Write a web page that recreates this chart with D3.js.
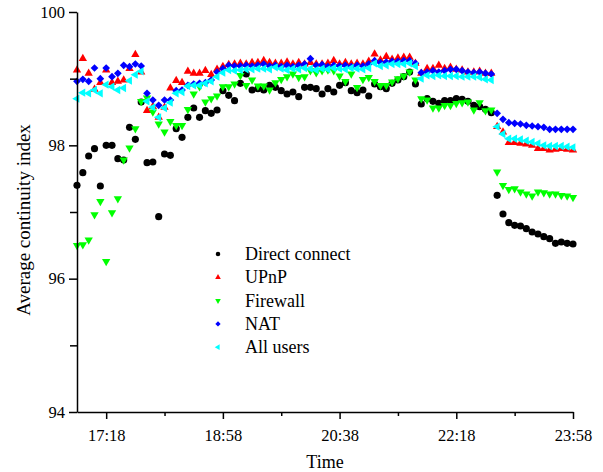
<!DOCTYPE html>
<html>
<head>
<meta charset="utf-8">
<script src="https://cdn.jsdelivr.net/npm/d3@7"></script>
<style>
  body { margin: 0; background: #fff; }
</style>
</head>
<body>
<div id="chart"></div>
<script>
'use strict';

var serif = '"Liberation Serif", "Times New Roman", Times, serif';

// sampling: one point every 5 minutes, 16:53 -> 23:58
var startTime = '16:53';
var stepMinutes = 5;

var majorTicks = ['17:18', '18:58', '20:38', '22:18', '23:58'];
var minorTicks = ['18:08', '19:48', '21:28', '23:08'];
var yMajor = [94, 96, 98, 100];
var yMinor = [95, 97, 99];

var directConnect = [
  97.40, 97.59, 97.84, 97.95, 97.39, 98.00, 98.00, 97.80, 97.78, 98.27,
  98.09, 98.65, 97.74, 97.75, 96.93, 97.87, 97.85, 98.25, 98.12, 98.42,
  98.56, 98.42, 98.52, 98.48, 98.53, 98.82, 98.75, 98.67, 98.93, 99.07,
  98.83, 98.85, 98.83, 98.90, 98.87, 98.82, 98.77, 98.80, 98.73, 98.87,
  98.87, 98.85, 98.77, 98.85, 98.80, 98.90, 98.94, 98.82, 98.79, 98.83,
  98.74, 98.92, 98.88, 98.85, 98.93, 98.98, 99.03, 99.10, 98.92, 98.62,
  98.70, 98.66, 98.63, 98.67, 98.67, 98.70, 98.69, 98.66, 98.60, 98.58,
  98.54, 98.49, 97.25, 96.97, 96.84, 96.80, 96.79, 96.75, 96.70, 96.67,
  96.63, 96.60, 96.53, 96.55, 96.53, 96.52
];

var upnp = [
  99.13, 99.30, 99.08, 98.84, 98.94, 99.13, 98.94, 98.96, 98.98, 99.15,
  99.36, 99.10, 98.52, 98.58, 98.42, 98.57, 98.86, 98.97, 98.94, 99.11,
  99.08, 99.08, 99.12, 99.06, 99.14, 99.18, 99.21, 99.22, 99.23, 99.22,
  99.24, 99.24, 99.27, 99.24, 99.23, 99.23, 99.25, 99.22, 99.24, 99.22,
  99.24, 99.22, 99.22, 99.23, 99.27, 99.22, 99.24, 99.22, 99.23, 99.22,
  99.26, 99.37, 99.28, 99.33, 99.29, 99.31, 99.32, 99.32, 99.23, 99.08,
  99.15, 99.15, 99.20, 99.15, 99.17, 99.14, 99.13, 99.10, 99.10, 99.11,
  99.08, 99.08, 98.28, 98.20, 98.04, 98.04, 98.03, 98.02, 98.00, 97.95,
  97.95, 97.93, 97.94, 97.95, 97.94, 97.93
];

var firewall = [
  96.50, 96.51, 96.58, 96.96, 97.16, 96.26, 96.99, 97.20, 97.78, 97.96,
  98.25, 98.66, 98.71, 98.50, 98.32, 98.20, 98.36, 98.30, 98.30, 98.54,
  98.77, 98.88, 98.65, 98.70, 98.74, 98.88, 98.88, 98.92, 99.05, 98.90,
  98.98, 98.89, 98.89, 98.83, 98.94, 98.99, 99.03, 99.07, 99.02, 99.03,
  99.12, 99.09, 99.12, 99.13, 99.12, 99.04, 98.96, 99.07, 98.87, 98.99,
  99.02, 98.96, 98.90, 98.90, 98.95, 99.00, 99.04, 99.10, 98.98, 98.70,
  98.68, 98.56, 98.56, 98.60, 98.60, 98.63, 98.64, 98.65, 98.53, 98.64,
  98.52, 98.53, 97.60, 97.40, 97.34, 97.35, 97.30, 97.27, 97.24, 97.30,
  97.29, 97.27, 97.27, 97.25, 97.24, 97.22
];

var nat = [
  98.96, 98.99, 98.96, 99.16, 99.00, 99.16, 99.03, 99.08, 99.20, 99.18,
  99.22, 99.19, 98.78, 98.68, 98.60, 98.68, 98.68, 98.82, 98.83, 98.90,
  98.92, 98.93, 98.94, 98.98, 99.10, 99.15, 99.20, 99.19, 99.19, 99.20,
  99.19, 99.20, 99.22, 99.19, 99.20, 99.18, 99.20, 99.18, 99.20, 99.22,
  99.30, 99.20, 99.21, 99.18, 99.20, 99.19, 99.20, 99.18, 99.20, 99.19,
  99.22, 99.27, 99.24, 99.25, 99.26, 99.26, 99.27, 99.27, 99.23, 99.09,
  99.10, 99.12, 99.10, 99.12, 99.14, 99.14, 99.12, 99.10, 99.09, 99.10,
  99.08, 99.07, 98.48, 98.39, 98.34, 98.33, 98.32, 98.30, 98.29, 98.28,
  98.27, 98.24, 98.24, 98.24, 98.24, 98.24
];

var allUsers = [
  98.70, 98.79, 98.78, 98.83, 98.78, 98.91, 98.88, 98.83, 98.86, 98.97,
  99.06, 99.11, 98.66, 98.57, 98.42, 98.56, 98.64, 98.78, 98.80, 98.89,
  98.90, 98.90, 98.93, 98.96, 99.03, 99.09, 99.13, 99.12, 99.13, 99.14,
  99.14, 99.15, 99.15, 99.14, 99.17, 99.15, 99.13, 99.15, 99.14, 99.16,
  99.15, 99.13, 99.15, 99.14, 99.16, 99.15, 99.14, 99.16, 99.15, 99.14,
  99.16, 99.23, 99.19, 99.20, 99.22, 99.22, 99.22, 99.23, 99.19, 99.00,
  99.05, 99.04, 99.05, 99.04, 99.04, 99.04, 99.03, 99.03, 99.03, 99.02,
  98.99, 98.98, 98.28, 98.17, 98.10, 98.10, 98.09, 98.07, 98.05, 98.03,
  98.00, 97.99, 97.99, 97.99, 97.98, 97.97
];

var seriesNames = ['Direct connect', 'UPnP', 'Firewall', 'NAT', 'All users'];
var seriesValues = [directConnect, upnp, firewall, nat, allUsers];
var seriesColors = ['#000000', '#ff0000', '#00ff00', '#0000ff', '#00ffff'];

var parseTime = d3.timeParse('%H:%M');
var t0 = parseTime(startTime);

var width = 603, height = 472;
var margin = { left: 77, right: 30, top: 12, bottom: 60 };

var svg = d3.select('#chart').append('svg')
  .attr('width', width)
  .attr('height', height);

var x = d3.scaleTime()
  .domain([t0, d3.timeMinute.offset(t0, stepMinutes * (directConnect.length - 1))])
  .range([margin.left, width - margin.right]);

var y = d3.scaleLinear()
  .domain([94, 100])
  .range([height - margin.bottom, margin.top]);

// marker shapes: [symbol type, rotation, size]
var shapes = [
  [d3.symbolCircle, 0, 40],
  [d3.symbolTriangle, 0, 30],
  [d3.symbolTriangle, 180, 30],
  [d3.symbolSquare, 45, 30],
  [d3.symbolTriangle, -90, 30]
];

var legendShapes = [
  [d3.symbolCircle, 0, 16],
  [d3.symbolTriangle, 0, 14],
  [d3.symbolTriangle, 180, 14],
  [d3.symbolSquare, 45, 14],
  [d3.symbolTriangle, -90, 14]
];

// points
seriesValues.forEach(function (values, s) {
  var shape = shapes[s];
  var sym = d3.symbol().type(shape[0]).size(shape[2]);
  svg.append('g')
    .attr('class', 'series')
    .selectAll('path')
    .data(values)
    .enter()
    .append('path')
    .attr('d', sym)
    .attr('fill', seriesColors[s])
    .attr('transform', function (d, i) {
      var px = x(d3.timeMinute.offset(t0, i * stepMinutes));
      return 'translate(' + px + ',' + y(d) + ') rotate(' + shape[1] + ')';
    });
});

// x axis
var xAxis = svg.append('g')
  .attr('transform', 'translate(0,' + y(94) + ')');

xAxis.append('g')
  .call(d3.axisBottom(x)
    .tickValues(minorTicks.map(parseTime))
    .tickSize(4)
    .tickFormat(''))
  .call(function (g) { g.select('.domain').remove(); });

xAxis.append('g')
  .call(d3.axisBottom(x)
    .tickValues(majorTicks.map(parseTime))
    .tickSize(7)
    .tickSizeOuter(0)
    .tickPadding(10)
    .tickFormat(d3.timeFormat('%H:%M')));

// y axis
var yAxis = svg.append('g')
  .attr('transform', 'translate(' + margin.left + ',0)');

yAxis.append('g')
  .call(d3.axisLeft(y)
    .tickValues(yMinor)
    .tickSize(7)
    .tickFormat(''))
  .call(function (g) { g.select('.domain').remove(); });

yAxis.append('g')
  .call(d3.axisLeft(y)
    .tickValues(yMajor)
    .tickSize(8)
    .tickSizeOuter(0)
    .tickPadding(4)
    .tickFormat(d3.format('d')));

svg.selectAll('.domain, .tick line')
  .attr('stroke', '#000')
  .attr('stroke-width', 1.5);

svg.selectAll('g').attr('font-family', null);

svg.selectAll('.tick text')
  .attr('font-size', 16.5);

// axis titles
svg.append('text')
  .attr('x', (margin.left + width - margin.right) / 2)
  .attr('y', 468)
  .attr('text-anchor', 'middle')
  .attr('font-size', 18)
  .text('Time');

svg.append('text')
  .attr('transform', 'translate(30,220) rotate(-90)')
  .attr('text-anchor', 'middle')
  .attr('font-size', 19)
  .text('Average continuity index');

// legend
var legend = svg.append('g')
  .attr('transform', 'translate(218,254)');

var rows = legend.selectAll('g')
  .data(seriesNames)
  .enter()
  .append('g')
  .attr('transform', function (d, i) { return 'translate(0,' + (i * 23.3) + ')'; });

rows.append('path')
  .attr('d', function (d, i) {
    return d3.symbol().type(legendShapes[i][0]).size(legendShapes[i][2])();
  })
  .attr('transform', function (d, i) { return 'rotate(' + legendShapes[i][1] + ')'; })
  .attr('fill', function (d, i) { return seriesColors[i]; });

rows.append('text')
  .attr('x', 27)
  .attr('y', 6)
  .attr('font-size', 18)
  .text(function (d) { return d; });

svg.selectAll('text')
  .attr('fill', '#000')
  .style('font-family', serif);
</script>
</body>
</html>
